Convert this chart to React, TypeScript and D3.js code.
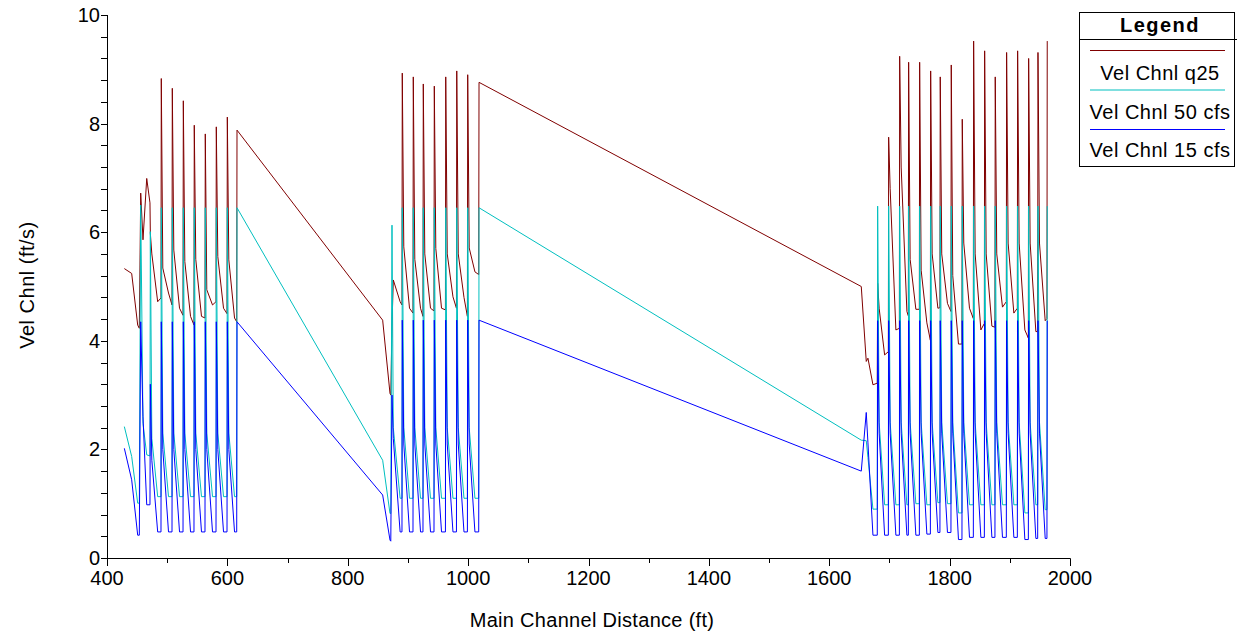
import * as d3 from "d3";

// main channel stations (ft), shared by all three profiles
const STATIONS = [
  // upper reach
  428.8, 441.0, 451.0, 453.7, 456.0, 459.8, 466.0, 471.4, 472.0, 474.5, 484.2, 489.7,
  490.2, 492.7, 502.2, 508.0,
  508.5, 511.0, 520.5, 526.3,
  526.8, 529.3, 538.8, 544.5,
  545.0, 547.5, 557.0, 562.8,
  563.3, 565.8, 575.3, 581.1,
  581.6, 584.1, 593.6, 599.4,
  599.9, 602.4, 611.9, 615.5,
  616.0,
  // middle reach
  858.0, 870.2, 871.5, 873.5, 875.7, 887.0, 890.1,
  890.6, 893.1, 902.6, 908.4,
  908.9, 911.4, 920.9, 925.0,
  925.5, 928.0, 937.5, 943.3,
  943.8, 946.3, 955.8, 962.3,
  962.8, 965.3, 974.8, 980.6,
  981.1, 983.6, 993.1, 998.8,
  999.3, 1001.8, 1011.3, 1017.6,
  1018.1,
  // lower reach
  1653.2, 1661.5, 1664.3, 1672.6, 1679.8,
  1680.4, 1682.9, 1692.0, 1698.2,
  1698.7, 1701.2, 1710.7, 1716.5,
  1717.0, 1719.5, 1729.0, 1731.4,
  1731.9, 1734.4, 1743.9, 1749.7,
  1750.2, 1752.7, 1762.2, 1768.0,
  1768.5, 1771.0, 1780.5, 1783.9,
  1784.4, 1786.9, 1796.4, 1802.2,
  1802.7, 1805.2, 1814.7, 1820.5,
  1821.0, 1823.5, 1833.0, 1839.4,
  1839.9, 1842.4, 1851.9, 1857.7,
  1858.2, 1860.7, 1870.2, 1875.3,
  1875.8, 1878.3, 1887.8, 1894.2,
  1894.7, 1897.2, 1906.7, 1912.5,
  1913.0, 1915.5, 1925.0, 1930.8,
  1931.3, 1933.8, 1943.3, 1946.3,
  1946.8, 1949.3, 1958.8, 1961.7,
  1962.2,
];

// Vel Chnl q25 (ft/s)
const Q25 = [
  5.33, 5.24, 4.29, 4.23, 6.72, 5.86, 6.99, 6.54, 5.98, 5.60, 4.72, 4.79,
  8.83, 5.34, 4.88, 4.66,
  8.65, 5.67, 4.60, 4.47,
  8.42, 5.46, 4.45, 4.29,
  7.97, 5.50, 4.45, 4.42,
  7.81, 4.94, 4.66, 4.72,
  7.94, 5.55, 4.60, 4.50,
  8.12, 5.49, 4.42, 4.35,
  7.88,
  4.38, 3.03, 3.00, 4.29, 5.12, 4.72, 4.66,
  8.93, 5.73, 4.60, 4.51,
  8.86, 5.50, 4.60, 4.45,
  8.73, 5.60, 4.60, 4.55,
  8.69, 5.70, 4.60, 4.57,
  8.86, 5.60, 4.81, 4.60,
  8.97, 5.60, 4.80, 4.45,
  8.90, 5.71, 5.27, 5.22,
  8.76,
  5.00, 3.62, 3.68, 3.19, 3.22,
  5.06, 4.60, 3.74, 3.80,
  7.75, 6.80, 4.20, 4.23,
  9.24, 7.20, 4.54, 4.46,
  9.13, 5.50, 4.58, 4.58,
  9.13, 5.30, 4.33, 4.01,
  8.97, 5.60, 4.60, 4.61,
  8.86, 5.60, 4.69, 4.54,
  9.08, 5.20, 3.94, 3.94,
  8.08, 5.80, 4.60, 4.41,
  9.52, 5.60, 4.20, 4.32,
  9.34, 5.60, 4.27, 4.25,
  8.86, 5.60, 4.62, 4.72,
  9.31, 5.80, 4.51, 4.60,
  9.34, 5.80, 4.20, 4.05,
  9.20, 5.80, 4.17, 4.17,
  9.31, 5.80, 4.37, 4.41,
  9.52,
];

// Vel Chnl 50 cfs (ft/s)
const CFS50 = [
  2.42, 1.87, 1.01, 1.01, 6.50, 2.48, 1.90, 1.88, 6.01, 2.20, 1.13, 1.13,
  6.45, 2.30, 1.13, 1.13,
  6.45, 2.30, 1.13, 1.13,
  6.45, 2.30, 1.13, 1.13,
  6.45, 2.30, 1.13, 1.13,
  6.45, 2.30, 1.13, 1.13,
  6.45, 2.30, 1.13, 1.13,
  6.45, 2.30, 1.13, 1.13,
  6.45,
  1.80, 0.82, 0.82, 6.13, 2.40, 1.10, 1.10,
  6.45, 2.40, 1.10, 1.10,
  6.45, 2.40, 1.10, 1.10,
  6.45, 2.40, 1.10, 1.10,
  6.45, 2.40, 1.10, 1.10,
  6.45, 2.40, 1.10, 1.10,
  6.45, 2.40, 1.10, 1.10,
  6.45, 2.40, 1.10, 1.10,
  6.45,
  2.17, 2.16, 1.85, 0.90, 0.90,
  6.48, 2.50, 0.98, 0.98,
  6.48, 2.50, 0.98, 0.98,
  6.48, 2.50, 0.98, 0.98,
  6.48, 2.50, 1.00, 1.00,
  6.48, 2.50, 0.98, 0.98,
  6.48, 2.50, 1.02, 1.02,
  6.48, 2.50, 1.00, 1.00,
  6.48, 2.50, 0.83, 0.83,
  6.48, 2.50, 0.98, 0.98,
  6.48, 2.50, 0.98, 0.98,
  6.48, 2.50, 0.98, 0.98,
  6.48, 2.50, 0.98, 0.98,
  6.48, 2.50, 0.98, 0.98,
  6.48, 2.50, 0.83, 0.83,
  6.48, 2.50, 0.98, 0.98,
  6.48, 2.50, 0.89, 0.89,
  6.48,
];

// Vel Chnl 15 cfs (ft/s)
const CFS15 = [
  2.02, 1.44, 0.42, 0.42, 4.35, 2.60, 0.98, 0.98, 3.20, 1.80, 0.48, 0.48,
  4.35, 2.00, 0.48, 0.48,
  4.35, 2.00, 0.48, 0.48,
  4.35, 2.00, 0.48, 0.48,
  4.35, 2.00, 0.48, 0.48,
  4.35, 2.00, 0.48, 0.48,
  4.35, 2.00, 0.48, 0.48,
  4.35, 2.00, 0.48, 0.48,
  4.35,
  1.16, 0.33, 0.31, 3.00, 2.20, 0.48, 0.48,
  4.38, 2.10, 0.48, 0.48,
  4.38, 2.10, 0.48, 0.48,
  4.38, 2.10, 0.48, 0.48,
  4.38, 2.10, 0.48, 0.48,
  4.38, 2.10, 0.48, 0.48,
  4.38, 2.10, 0.48, 0.48,
  4.38, 2.10, 0.48, 0.48,
  4.38,
  1.60, 2.68, 2.12, 0.42, 0.42,
  4.37, 2.30, 0.42, 0.42,
  4.37, 2.30, 0.42, 0.42,
  4.37, 2.30, 0.42, 0.42,
  4.37, 2.30, 0.42, 0.42,
  4.37, 2.30, 0.44, 0.44,
  4.37, 2.30, 0.47, 0.47,
  4.37, 2.30, 0.47, 0.47,
  4.37, 2.30, 0.34, 0.34,
  4.37, 2.30, 0.38, 0.38,
  4.37, 2.30, 0.38, 0.38,
  4.37, 2.30, 0.38, 0.38,
  4.37, 2.30, 0.38, 0.38,
  4.37, 2.30, 0.38, 0.38,
  4.37, 2.30, 0.34, 0.34,
  4.37, 2.30, 0.36, 0.36,
  4.37, 2.30, 0.36, 0.36,
  4.37,
];

const SERIES = [
  { name: "Vel Chnl q25", values: Q25, color: "#800000" },
  { name: "Vel Chnl 50 cfs", values: CFS50, color: "#00bfbf" },
  { name: "Vel Chnl 15 cfs", values: CFS15, color: "#0000ff" },
];

const X_LABELS = [400, 600, 800, 1000, 1200, 1400, 1600, 1800, 2000];
const Y_LABELS = [0, 2, 4, 6, 8, 10];

const W = 1241;
const H = 635;
const FONT = "Arial, 'Liberation Sans', sans-serif";

export default function App() {
  const x = d3.scaleLinear().domain([400, 2000]).range([107, 1070]);
  const y = d3.scaleLinear().domain([0, 10]).range([558, 15]);

  const line = d3
    .line<number>()
    .x((_, i) => x(STATIONS[i]))
    .y((d) => y(d));

  // minor ticks: every 100 ft, every 0.4 ft/s
  const xTicks = d3.range(400, 2001, 100);
  const yTicks = d3.range(0, 25.5, 1).map((k) => k * 0.4);

  const lx = 1079.5; // legend box left
  const lw = 155;

  return (
    <svg
      width={W}
      height={H}
      style={{ position: "absolute", left: 0, top: 0, display: "block" }}
      fontFamily={FONT}
    >
      <rect width={W} height={H} fill="#fff" />

      {SERIES.map((s) => (
        <path key={s.name} d={line(s.values) || ""} fill="none" stroke={s.color} strokeWidth={1} />
      ))}

      {/* y axis */}
      <line x1={107.5} x2={107.5} y1={15} y2={558.5} stroke="#000" />
      {yTicks.map((t) => (
        <line key={t} x1={101} x2={107.5} y1={Math.round(y(t)) + 0.5} y2={Math.round(y(t)) + 0.5} stroke="#000" />
      ))}
      {Y_LABELS.map((t) => (
        <text key={t} x={100} y={y(t) + 7} textAnchor="end" fontSize={20}>
          {t}
        </text>
      ))}

      {/* x axis */}
      <line x1={107} x2={1070.5} y1={558.5} y2={558.5} stroke="#000" />
      {xTicks.map((t) => (
        <line
          key={t}
          x1={Math.round(x(t)) + 0.5}
          x2={Math.round(x(t)) + 0.5}
          y1={558.5}
          y2={t % 200 === 0 ? 566 : 563}
          stroke="#000"
        />
      ))}
      {X_LABELS.map((t) => (
        <text key={t} x={x(t)} y={585} textAnchor="middle" fontSize={20}>
          {t}
        </text>
      ))}

      <text x={592} y={627} textAnchor="middle" fontSize={20} letterSpacing={0.3}>
        Main Channel Distance (ft)
      </text>
      <text
        transform="translate(34,285) rotate(-90)"
        textAnchor="middle"
        fontSize={20}
        letterSpacing={0.5}
      >
        Vel Chnl (ft/s)
      </text>

      {/* legend */}
      <rect x={lx} y={12.5} width={lw} height={154} fill="#fff" stroke="#000" />
      <line x1={lx} x2={1237} y1={39.5} y2={39.5} stroke="#000" />
      <text x={1160} y={32} textAnchor="middle" fontSize={20} fontWeight="bold" letterSpacing={1.5}>
        Legend
      </text>
      {SERIES.map((s, i) => (
        <g key={s.name}>
          <line
            x1={1090}
            x2={1225}
            y1={50.5 + i * 39.5}
            y2={50.5 + i * 39.5}
            stroke={s.color}
          />
          <text x={1160} y={80 + i * 38.5} textAnchor="middle" fontSize={20} letterSpacing={0.5}>
            {s.name}
          </text>
        </g>
      ))}
    </svg>
  );
}
